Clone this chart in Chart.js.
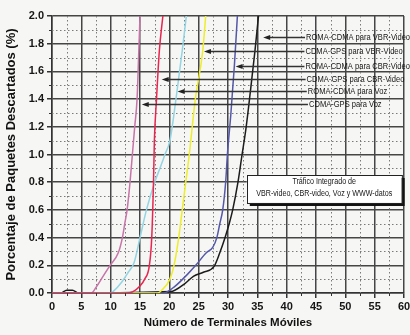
<!DOCTYPE html>
<html>
<head>
<meta charset="utf-8">
<script src="https://cdn.jsdelivr.net/npm/chart.js@4"></script>
<style>
  html, body { margin: 0; padding: 0; background: #f6f6f4; }
  #wrap { width: 410px; height: 335px; }
</style>
</head>
<body>
<div id="wrap"><canvas id="chart" width="410" height="335"></canvas></div>
<script>
// values (x = terminales, y = % descartados)
const seriesNames = [
  "CDMA-GPS para CBR-Video",
  "CDMA-GPS para Voz",
  "ROMA-CDMA para Voz",
  "CDMA-GPS para VBR-Video",
  "ROMA-CDMA para CBR-Video",
  "ROMA-CDMA para VBR-Video",
];

const redX    = [0, 12.5, 13.8, 15.0, 15.8, 16.6, 17.0, 17.3, 17.45, 17.8, 18.3, 18.9];
const redY    = [0, 0, 0.01, 0.05, 0.1, 0.2, 0.4, 0.8, 1.1, 1.39, 1.75, 2.0];

const pinkX   = [0, 6.7, 7.5, 8.7, 9.9, 11.3, 12.0, 12.4, 12.8, 13.3, 13.7, 14.1, 14.5, 14.8, 15.0];
const pinkY   = [0, 0, 0.04, 0.12, 0.2, 0.29, 0.4, 0.5, 0.6, 0.8, 1.0, 1.2, 1.4, 1.75, 2.0];

const cyanX   = [0, 10.0, 10.4, 11.9, 13.0, 14.0, 15.0, 16.1, 17.5, 18.4, 19.25, 20.1, 21.1, 22.2, 22.9];
const cyanY   = [0, 0, 0.01, 0.08, 0.15, 0.22, 0.4, 0.6, 0.8, 0.9, 1.0, 1.1, 1.39, 1.75, 2.0];

const yellowX = [0, 18.0, 18.7, 20.1, 20.8, 21.6, 22.2, 22.8, 23.4, 24.4, 25.7, 26.2];
const yellowY = [0, 0, 0.02, 0.1, 0.2, 0.4, 0.6, 0.8, 1.0, 1.39, 1.75, 2.0];

const blueX   = [0, 19.0, 21.0, 23.2, 24.5, 26.3, 27.4, 28.1, 28.6, 29.1, 29.6, 29.9, 30.5, 31.1, 31.6];
const blueY   = [0, 0, 0.05, 0.14, 0.2, 0.29, 0.33, 0.4, 0.5, 0.6, 0.8, 1.0, 1.3, 1.65, 2.0];

const blackX  = [0, 1.5, 2.5, 3.5, 4.5, 20.2, 22.7, 24.1, 25.8, 27.6, 28.6, 29.5, 30.2, 30.8, 31.7, 32.4, 33.1, 33.8, 34.6, 35.2];
const blackY  = [0, 0, 0.02, 0.02, 0, 0.01, 0.07, 0.12, 0.15, 0.19, 0.29, 0.4, 0.5, 0.6, 0.8, 1.0, 1.2, 1.45, 1.75, 2.0];

// arrow annotations (label, arrow tip in data units)
const arrowLabels = [
  "ROMA-CDMA para VBR-Video",
  "CDMA-GPS para VBR-Video",
  "ROMA-CDMA para CBR-Video",
  "CDMA-GPS para CBR-Video",
  "ROMA-CDMA para Voz",
  "CDMA-GPS para Voz",
];
const arrowTipX  = [36.0, 25.9, 31.3, 18.7, 21.4, 15.3];
const arrowY     = [1.845, 1.747, 1.639, 1.543, 1.459, 1.363];
const arrowTextX = [43.3, 43.2, 43.2, 43.4, 43.6, 43.8];

const boxLines = ["Tráfico Integrado de", "VBR-video, CBR-video, Voz y WWW-datos"];

const FONT = '"Liberation Sans", Arial, sans-serif';

const COLORS = {
  red: "#e8254f",
  pink: "#c774a8",
  cyan: "#93d5e2",
  yellow: "#eded2c",
  blue: "#5558a8",
  black: "#1c1c1c",
  grid: "#454545",
  minor: "#7a7a7a",
  text: "#161616",
};

function pts(xs, ys) {
  return xs.map((x, i) => ({ x, y: ys[i] }));
}

function lineSet(label, xs, ys, color) {
  return {
    label,
    data: pts(xs, ys),
    borderColor: color,
    borderWidth: 1.5,
    pointRadius: 0,
    fill: false,
    cubicInterpolationMode: "monotone",
  };
}

const minorGrid = {
  id: "minorGrid",
  beforeDatasetsDraw(chart) {
    const { ctx, chartArea: a, scales: { x, y } } = chart;
    ctx.save();
    ctx.strokeStyle = COLORS.minor;
    ctx.lineWidth = 1;
    ctx.setLineDash([1.5, 2.5]);
    for (let v = 2.5; v < 60; v += 5) {
      const px = Math.round(x.getPixelForValue(v)) + 0.5;
      ctx.beginPath(); ctx.moveTo(px, a.top); ctx.lineTo(px, a.bottom); ctx.stroke();
    }
    for (let v = 0.1; v < 2; v += 0.2) {
      const py = Math.round(y.getPixelForValue(v)) + 0.5;
      ctx.beginPath(); ctx.moveTo(a.left, py); ctx.lineTo(a.right, py); ctx.stroke();
    }
    ctx.setLineDash([]);
    ctx.strokeStyle = "#333";
    for (let v = 2.5; v < 60; v += 5) {
      const px = Math.round(x.getPixelForValue(v)) + 0.5;
      ctx.beginPath(); ctx.moveTo(px, a.bottom); ctx.lineTo(px, a.bottom + 3); ctx.stroke();
    }
    for (let v = 0.1; v < 2; v += 0.2) {
      const py = Math.round(y.getPixelForValue(v)) + 0.5;
      ctx.beginPath(); ctx.moveTo(a.left - 3, py); ctx.lineTo(a.left, py); ctx.stroke();
    }
    ctx.restore();
  },
};

function narrowText(ctx, text, x, y, size, align) {
  ctx.save();
  ctx.font = size + "px " + FONT;
  ctx.textBaseline = "middle";
  ctx.textAlign = align || "left";
  ctx.translate(x, y);
  ctx.scale(0.84, 1);
  ctx.fillText(text, 0, 0);
  ctx.restore();
}

const annotations = {
  id: "annotations",
  afterDatasetsDraw(chart) {
    const { ctx, scales: { x, y } } = chart;
    ctx.save();
    ctx.strokeStyle = "#333";
    ctx.lineWidth = 1.6;
    arrowLabels.forEach((label, i) => {
      const tx = x.getPixelForValue(arrowTipX[i]);
      const ty = Math.round(y.getPixelForValue(arrowY[i])) + 0.5;
      const ex = x.getPixelForValue(arrowTextX[i]) - 1;
      ctx.beginPath(); ctx.moveTo(tx + 4, ty); ctx.lineTo(ex, ty); ctx.stroke();
      ctx.fillStyle = "#222";
      ctx.beginPath();
      ctx.moveTo(tx, ty);
      ctx.lineTo(tx + 7, ty - 2.5);
      ctx.lineTo(tx + 7, ty + 2.5);
      ctx.closePath();
      ctx.fill();
      ctx.fillStyle = COLORS.text;
      narrowText(ctx, label, ex + 1, ty, 9);
    });

    // framed note with drop shadow
    const bx0 = x.getPixelForValue(33.2), bx1 = x.getPixelForValue(59.6);
    const by0 = y.getPixelForValue(0.852), by1 = y.getPixelForValue(0.65);
    ctx.fillStyle = "#111";
    ctx.fillRect(bx0 + 3, by0 + 3, bx1 - bx0, by1 - by0);
    ctx.fillStyle = "#ffffff";
    ctx.fillRect(bx0, by0, bx1 - bx0, by1 - by0);
    ctx.strokeStyle = "#222";
    ctx.lineWidth = 1;
    ctx.strokeRect(Math.round(bx0) + 0.5, Math.round(by0) + 0.5, bx1 - bx0, by1 - by0);
    ctx.fillStyle = COLORS.text;
    const cx = (bx0 + bx1) / 2;
    narrowText(ctx, boxLines[0], cx, by0 + 7, 8.5, "center");
    narrowText(ctx, boxLines[1], cx, by0 + 19, 8.5, "center");
    ctx.restore();
  },
};

const tickFont = { family: FONT, size: 11, weight: "bold" };

new Chart(document.getElementById("chart").getContext("2d"), {
  type: "line",
  data: {
    datasets: [
      lineSet(seriesNames[0], redX, redY, COLORS.red),
      lineSet(seriesNames[1], pinkX, pinkY, COLORS.pink),
      lineSet(seriesNames[2], cyanX, cyanY, COLORS.cyan),
      lineSet(seriesNames[3], yellowX, yellowY, COLORS.yellow),
      lineSet(seriesNames[4], blueX, blueY, COLORS.blue),
      lineSet(seriesNames[5], blackX, blackY, COLORS.black),
    ],
  },
  options: {
    responsive: false,
    animation: false,
    layout: { padding: { top: 16, right: 6, left: 0, bottom: 0 } },
    plugins: { legend: { display: false }, tooltip: { enabled: false } },
    scales: {
      x: {
        type: "linear",
        min: 0,
        max: 60,
        ticks: { stepSize: 5, color: COLORS.text, font: tickFont, padding: 2, maxRotation: 0, autoSkip: false },
        grid: { color: COLORS.grid, lineWidth: 1.5, tickLength: 5, tickColor: "#333" },
        border: { color: "#333", width: 1.5 },
        title: {
          display: true,
          text: "Número de Terminales Móviles",
          color: "#111",
          font: { family: FONT, size: 11.5, weight: "bold" },
          padding: { top: 0, bottom: 5 },
        },
        afterFit(s) { s.height = 42; s.paddingLeft = 0; s.paddingRight = 0; },
      },
      y: {
        type: "linear",
        min: 0,
        max: 2,
        ticks: { stepSize: 0.2, color: COLORS.text, font: tickFont, padding: 3, callback: (v) => v.toFixed(1) },
        grid: { color: COLORS.grid, lineWidth: 1.5, tickLength: 5, tickColor: "#333" },
        border: { color: "#333", width: 1.5 },
        title: {
          display: true,
          text: "Porcentaje de Paquetes Descartados (%)",
          color: "#111",
          font: { family: FONT, size: 13, weight: "bold" },
          padding: { top: 4, bottom: 0 },
        },
        afterFit(s) { s.width = 52; s.paddingTop = 0; s.paddingBottom = 0; },
      },
    },
  },
  plugins: [minorGrid, annotations],
});
</script>
</body>
</html>
